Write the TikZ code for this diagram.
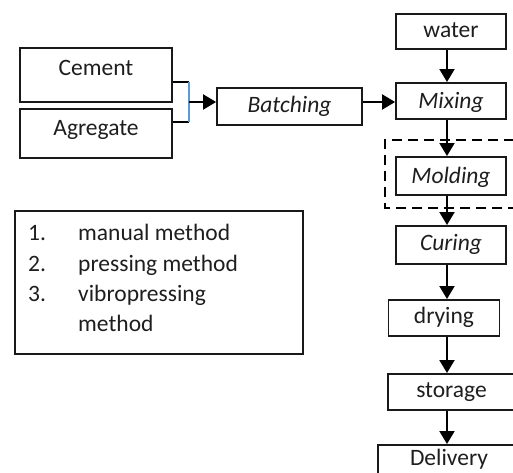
\documentclass[tikz,border=0pt]{standalone}
\usepackage{fontspec}
\setmainfont{Carlito}
\usetikzlibrary{arrows.meta}
\definecolor{bracketblue}{RGB}{91,155,213}
\definecolor{ink}{RGB}{30,30,30}
\begin{document}
\begin{tikzpicture}[x=1pt,y=-1pt,
  box/.style={draw=black!90, line width=1.8pt, inner xsep=0pt, inner ysep=0pt,
              anchor=north, text=ink, font=\fontsize{23.5}{28}\selectfont},
  itbox/.style={box, font=\fontsize{23.5}{28}\selectfont\itshape},
  arr/.style={line width=2pt, -{Triangle[length=13pt,width=15pt]}},
  conn/.style={line width=1.8pt},
  lt/.style={anchor=base west, inner sep=0pt, text=ink, font=\fontsize{23.5}{28}\selectfont}]
\clip (0,0) rectangle (513,472);
% left inputs
\node[box, minimum width=152pt, text height=28pt, text depth=26pt] (cement) at (96,47) {Cement};
\node[box, minimum width=152pt, text height=27pt, text depth=22pt] (agregate) at (96,108) {Agregate};
\node[itbox, minimum width=145pt, text height=25pt, text depth=12pt] (batching) at (289.5,87) {Batching};
% right column
\node[box, minimum width=110pt, text height=24pt, text depth=11pt] (water) at (451,13) {water};
\node[itbox, minimum width=110pt, text height=26pt, text depth=10pt] (mixing) at (451,82) {Mixing};
\draw[dashed, dash pattern=on 10pt off 6pt, line width=1.8pt] (530,140) -- (385,140) -- (385,208) -- (530,208);
\node[itbox, minimum width=110pt, text height=27pt, text depth=11pt] (molding) at (451,156) {Molding};
\node[itbox, minimum width=110pt, text height=25pt, text depth=13pt] (curing) at (451,225) {Curing};
\node[box, minimum width=111pt, text height=24pt, text depth=12pt] (drying) at (444,299) {drying};
\node[box, minimum width=127pt, text height=24pt, text depth=12pt] (storage) at (451.5,373) {storage};
\node[box, minimum width=142pt, text height=21pt, text depth=32pt] (delivery) at (449,444) {Delivery};
% bracket
\coordinate (b1) at (189,82);
\coordinate (b2) at (189,122);
\coordinate (bm) at (189,102);
\draw[conn] (b1 -| cement.east) -- (b1);
\draw[conn] (b2 -| agregate.east) -- (b2);
\draw[line width=1.5pt, bracketblue] (b1) -- (b2);
\draw[arr] (bm) -- (bm -| batching.west);
% batching to mixing
\coordinate (ay) at (0,102);
\draw[arr] (batching.east |- ay) -- (mixing.west |- ay);
% vertical arrows
\coordinate (ax) at (447,0);
\draw[arr] (water.south -| ax) -- (mixing.north -| ax);
\draw[arr] (mixing.south -| ax) -- (molding.north -| ax);
\draw[arr] (molding.south -| ax) -- (curing.north -| ax);
\draw[arr] (curing.south -| ax) -- (drying.north -| ax);
\draw[arr] (drying.south -| ax) -- (storage.north -| ax);
\draw[arr] (storage.south -| ax) -- (delivery.north -| ax);
% method list
\node[draw=black!90, line width=1.8pt, anchor=north west, minimum width=288pt, minimum height=143pt, inner sep=0pt] (listbox) at (14,210) {};
\node[lt] (n1) at (28,240) {1.};
\node[lt] (t1) at (78,240) {manual method};
\node[lt] (n2) at (28,271) {2.};
\node[lt] (t2) at (78,271) {pressing method};
\node[lt] (n3) at (28,301) {3.};
\node[lt] (t3) at (78,301) {vibropressing};
\node[lt] (t4) at (78,331) {method};
\end{tikzpicture}
\end{document}
